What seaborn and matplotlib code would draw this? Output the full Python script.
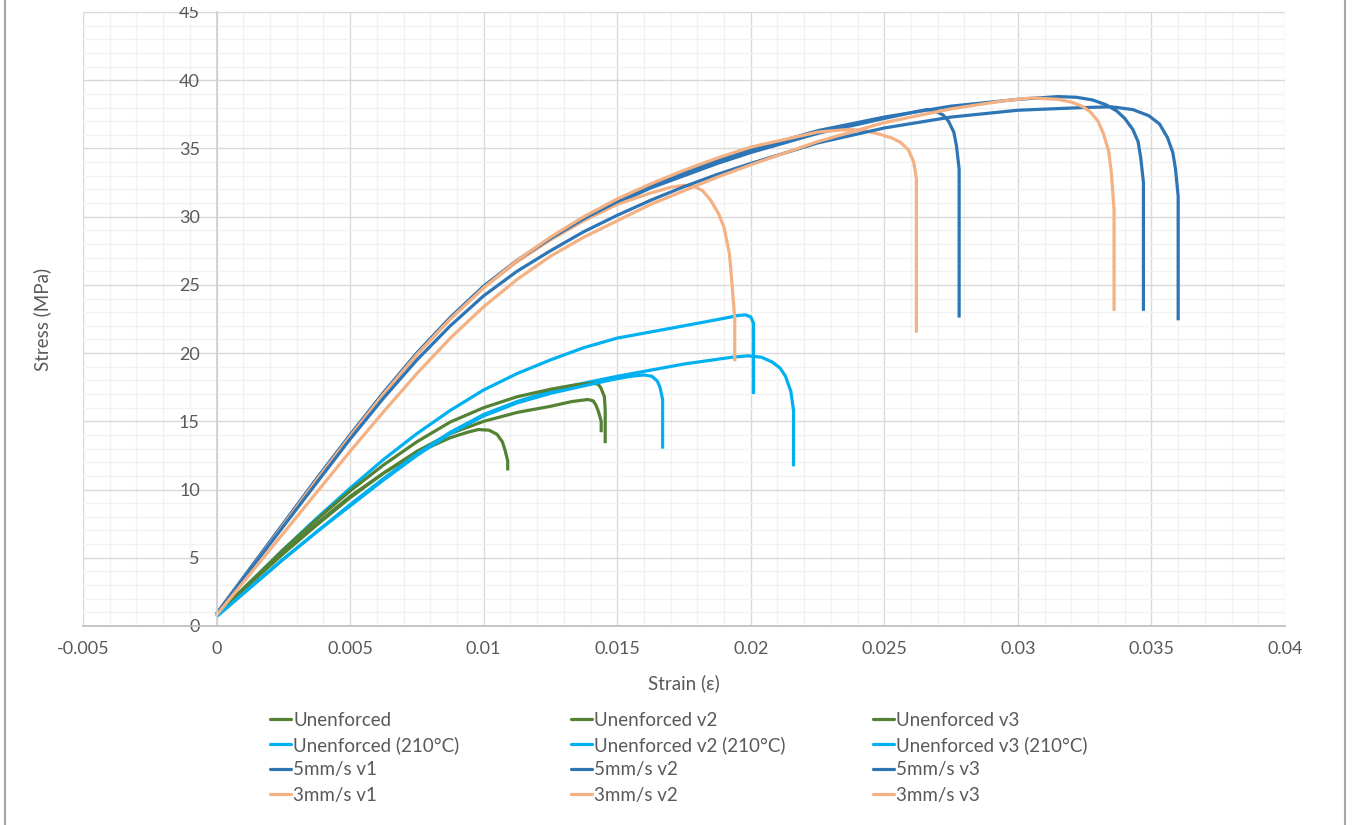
import numpy as np
import pandas as pd
import matplotlib
matplotlib.use("Agg")
import matplotlib.pyplot as plt
from matplotlib.lines import Line2D
from matplotlib.patches import Rectangle
from matplotlib.ticker import MultipleLocator, FuncFormatter
import seaborn as sns

# ── data ───────────────────────────────────────────────────────────────

unenf_x = [0, 0.00125, 0.0025, 0.00375, 0.005, 0.00625, 0.0075, 0.00875, 0.0094, 0.0098, 0.0102, 0.0105,
           0.0107, 0.0108, 0.0109, 0.0109]
unenf_y = [0.8, 3.2, 5.4, 7.5, 9.5, 11.2, 12.7, 13.8, 14.2, 14.4, 14.35, 14.05,
           13.5, 12.9, 12.1, 11.4]

unenf_v2_x = [0, 0.00125, 0.0025, 0.00375, 0.005, 0.00625, 0.0075, 0.00875, 0.01, 0.01125, 0.0125, 0.0133,
              0.0139, 0.0141, 0.0142, 0.0143, 0.0144, 0.0144]
unenf_v2_y = [0.8, 3.1, 5.3, 7.4, 9.4, 11.2, 12.8, 14.1, 15.0, 15.65, 16.1, 16.45,
              16.6, 16.5, 16.2, 15.7, 15.0, 14.2]

unenf_v3_x = [0, 0.00125, 0.0025, 0.00375, 0.005, 0.00625, 0.0075, 0.00875, 0.01, 0.01125, 0.0125, 0.0135,
              0.0141, 0.0143, 0.0144, 0.01452, 0.01455, 0.01455]
unenf_v3_y = [0.8, 3.2, 5.6, 7.8, 9.9, 11.8, 13.5, 14.95, 16.0, 16.8, 17.35, 17.7,
              17.8, 17.7, 17.4, 16.8, 15.8, 13.4]

hot_x = [0, 0.00125, 0.0025, 0.00375, 0.005, 0.00625, 0.0075, 0.00875, 0.01, 0.01125, 0.0125, 0.01375, 0.015,
         0.0175, 0.019, 0.0195, 0.0198, 0.02, 0.0201, 0.0201, 0.0201]
hot_y = [0.7, 3.2, 5.6, 7.9, 10.1, 12.2, 14.1, 15.8, 17.3, 18.5, 19.5, 20.4, 21.1,
         22.0, 22.55, 22.75, 22.8, 22.65, 22.2, 20.5, 17.0]

hot_v2_x = [0, 0.00125, 0.0025, 0.00375, 0.005, 0.00625, 0.0075, 0.00875, 0.01, 0.01125, 0.0125, 0.01375, 0.015,
            0.0175, 0.0193, 0.0199, 0.0204, 0.0208, 0.0211, 0.0213, 0.0215, 0.0216, 0.0216]
hot_v2_y = [0.7, 2.8, 4.9, 6.9, 8.9, 10.8, 12.6, 14.2, 15.5, 16.45, 17.2, 17.8, 18.3,
            19.2, 19.7, 19.8, 19.7, 19.35, 18.9, 18.3, 17.2, 15.8, 11.7]

hot_v3_x = [0, 0.00125, 0.0025, 0.00375, 0.005, 0.00625, 0.0075, 0.00875, 0.01, 0.01125, 0.0125, 0.01375,
            0.0148, 0.0155, 0.016, 0.0163, 0.0165, 0.0166, 0.0167, 0.0167]
hot_v3_y = [0.7, 2.8, 4.9, 6.9, 8.8, 10.7, 12.5, 14.1, 15.4, 16.35, 17.05, 17.6,
            18.05, 18.3, 18.4, 18.3, 17.95, 17.5, 16.6, 13.0]

f5_v1_x = [0, 0.00125, 0.0025, 0.00375, 0.005, 0.00625, 0.0075, 0.00875, 0.01, 0.01125, 0.0125, 0.01375,
           0.015, 0.01625, 0.0175, 0.01875, 0.02, 0.0225, 0.025, 0.0262, 0.0266, 0.0269, 0.0272, 0.0274,
           0.0276, 0.0277, 0.0278, 0.0278, 0.0278]
f5_v1_y = [0.9, 4.2, 7.5, 10.8, 14.0, 17.1, 20.0, 22.6, 24.9, 26.8, 28.4, 29.8,
           31.0, 32.1, 33.0, 33.9, 34.7, 36.1, 37.2, 37.7, 37.85, 37.75, 37.45, 37.0,
           36.2, 35.2, 33.5, 31.0, 22.6]

f5_v2_x = [0, 0.00125, 0.0025, 0.00375, 0.005, 0.00625, 0.0075, 0.00875, 0.01, 0.01125, 0.0125, 0.01375,
           0.015, 0.01625, 0.0175, 0.01875, 0.02, 0.0225, 0.025, 0.0275, 0.03, 0.0315, 0.0322, 0.0328,
           0.0333, 0.0337, 0.034, 0.0343, 0.0345, 0.0346, 0.0347, 0.0347]
f5_v2_y = [0.9, 4.2, 7.5, 10.8, 14.0, 17.1, 20.0, 22.6, 24.9, 26.8, 28.4, 29.85,
           31.1, 32.2, 33.2, 34.1, 34.9, 36.3, 37.3, 38.1, 38.6, 38.8, 38.75, 38.55,
           38.2, 37.75, 37.2, 36.4, 35.5, 34.3, 32.5, 23.1]

f5_v3_x = [0, 0.00125, 0.0025, 0.00375, 0.005, 0.00625, 0.0075, 0.00875, 0.01, 0.01125, 0.0125, 0.01375,
           0.015, 0.01625, 0.0175, 0.01875, 0.02, 0.0225, 0.025, 0.0275, 0.03, 0.0325, 0.0335, 0.0343,
           0.0349, 0.0353, 0.0356, 0.0358, 0.0359, 0.036, 0.036]
f5_v3_y = [0.9, 4.1, 7.3, 10.5, 13.7, 16.7, 19.5, 22.0, 24.2, 26.0, 27.5, 28.9,
           30.1, 31.2, 32.2, 33.1, 33.9, 35.4, 36.5, 37.3, 37.8, 38.0, 38.05, 37.85,
           37.4, 36.8, 35.8, 34.7, 33.5, 31.5, 22.4]

f3_v1_x = [0, 0.00125, 0.0025, 0.00375, 0.005, 0.00625, 0.0075, 0.00875, 0.01, 0.01125, 0.0125, 0.01375,
           0.015, 0.0162, 0.017, 0.0175, 0.0179, 0.0182, 0.0185, 0.0188, 0.019, 0.0192, 0.0193, 0.0194, 0.0194]
f3_v1_y = [0.9, 4.1, 7.4, 10.7, 13.9, 17.0, 19.9, 22.5, 24.8, 26.7, 28.3, 29.7,
           30.9, 31.7, 32.15, 32.3, 32.2, 31.9, 31.2, 30.2, 29.2, 27.3, 25.0, 22.5, 19.4]

f3_v2_x = [0, 0.00125, 0.0025, 0.00375, 0.005, 0.00625, 0.0075, 0.00875, 0.01, 0.01125, 0.0125, 0.01375,
           0.015, 0.01625, 0.0175, 0.01875, 0.02, 0.0225, 0.0237, 0.0243, 0.0249, 0.0253, 0.0256, 0.0259,
           0.0261, 0.0262, 0.0262, 0.0262]
f3_v2_y = [0.9, 4.1, 7.4, 10.7, 13.9, 17.0, 19.9, 22.5, 24.8, 26.8, 28.5, 30.0,
           31.3, 32.4, 33.4, 34.3, 35.1, 36.2, 36.4, 36.3, 36.0, 35.75, 35.45, 34.9,
           34.0, 32.8, 30.5, 21.5]

f3_v3_x = [0, 0.00125, 0.0025, 0.00375, 0.005, 0.00625, 0.0075, 0.00875, 0.01, 0.01125, 0.0125, 0.01375,
           0.015, 0.01625, 0.0175, 0.01875, 0.02, 0.0225, 0.025, 0.0275, 0.0295, 0.0305, 0.0315, 0.032,
           0.0324, 0.0327, 0.033, 0.0332, 0.0334, 0.0335, 0.0336, 0.0336]
f3_v3_y = [0.8, 3.8, 6.8, 9.8, 12.8, 15.7, 18.5, 21.1, 23.4, 25.4, 27.1, 28.5,
           29.7, 30.9, 31.9, 32.9, 33.8, 35.5, 36.9, 37.9, 38.5, 38.7, 38.6, 38.4,
           38.1, 37.7, 37.0, 36.1, 34.8, 33.2, 30.5, 23.1]

series = [
    ("Unenforced", unenf_x, unenf_y),
    ("Unenforced (210°C)", hot_x, hot_y),
    ("5mm/s v1", f5_v1_x, f5_v1_y),
    ("3mm/s v1", f3_v1_x, f3_v1_y),
    ("Unenforced v2", unenf_v2_x, unenf_v2_y),
    ("Unenforced v2 (210°C)", hot_v2_x, hot_v2_y),
    ("5mm/s v2", f5_v2_x, f5_v2_y),
    ("3mm/s v2", f3_v2_x, f3_v2_y),
    ("Unenforced v3", unenf_v3_x, unenf_v3_y),
    ("Unenforced v3 (210°C)", hot_v3_x, hot_v3_y),
    ("5mm/s v3", f5_v3_x, f5_v3_y),
    ("3mm/s v3", f3_v3_x, f3_v3_y),
]

GREEN, CYAN, BLUE, ORANGE = "#548235", "#00b0f0", "#2e75b6", "#f4b183"
palette = {}
for name, _, _ in series:
    if name.startswith("5mm"):
        palette[name] = BLUE
    elif name.startswith("3mm"):
        palette[name] = ORANGE
    elif "210" in name:
        palette[name] = CYAN
    else:
        palette[name] = GREEN

df = pd.concat(
    [pd.DataFrame({"strain": x, "stress": y, "series": n}) for n, x, y in series],
    ignore_index=True,
)

# ── plot ───────────────────────────────────────────────────────────────

sns.set_theme(style="white")
plt.rcParams["font.family"] = ["Lato", "DejaVu Sans"]
TXT = "#595959"

fig = plt.figure(figsize=(13.53, 8.25), dpi=100)
ax = fig.add_axes([83 / 1353, 1 - 626 / 825, (1285 - 83) / 1353, (626 - 12) / 825])

# greens / cyans first, blue and orange drawn over them
draw_order = [n for n, _, _ in series if palette[n] in (GREEN, CYAN)] + \
             [n for n, _, _ in series if palette[n] in (BLUE, ORANGE)]
for name in draw_order:
    sub = df[df["series"] == name]
    sns.lineplot(data=sub, x="strain", y="stress", color=palette[name], lw=2.3,
                 sort=False, estimator=None, ax=ax, legend=False)
for ln in ax.get_lines():
    ln.set_solid_joinstyle("round")
    ln.set_solid_capstyle("butt")

ax.set_xlim(-0.005, 0.04)
ax.set_ylim(0, 45)
ax.xaxis.set_major_locator(MultipleLocator(0.005))
ax.xaxis.set_minor_locator(MultipleLocator(0.001))
ax.yaxis.set_major_locator(MultipleLocator(5))
ax.yaxis.set_minor_locator(MultipleLocator(1))
ax.xaxis.set_major_formatter(FuncFormatter(lambda v, _: f"{round(v, 4):g}"))
ax.grid(which="major", color="#d9d9d9", lw=1.0)
ax.grid(which="minor", color="#f2f2f2", lw=1.0)
ax.set_axisbelow(True)

for s in ("top", "right"):
    ax.spines[s].set_visible(False)
ax.spines["left"].set_position(("data", 0))
ax.spines["left"].set_color("#d0d0d0")
ax.spines["bottom"].set_color("#bfbfbf")
ax.tick_params(axis="x", which="major", length=5, color="#bfbfbf", labelsize=13, labelcolor=TXT, pad=6)
ax.tick_params(axis="y", which="major", length=0, labelsize=13, labelcolor=TXT, pad=12)
ax.tick_params(which="minor", length=0)

ax.set_xlabel("Strain (ε)", fontsize=13.5, color=TXT, labelpad=12)
ax.set_ylabel("")
fig.text(42 / 1353, 1 - 319 / 825, "Stress (MPa)", rotation=90, ha="center", va="center",
         fontsize=13.5, color=TXT)

# legend laid out like the spreadsheet: 3 columns x 4 rows, one entry per cell
col_x = [270, 571, 873]
row_y = [720, 745, 770, 795]
for i, (name, _, _) in enumerate(series):
    xs, ys = col_x[i // 4], row_y[i % 4]
    leg = fig.legend([Line2D([], [], color=palette[name], lw=2.3)], [name], loc="center left",
                     bbox_to_anchor=(xs / 1353, 1 - ys / 825), frameon=False,
                     fontsize=13.5, handlelength=1.1, handletextpad=0.15,
                     borderpad=0, borderaxespad=0)
    leg.get_texts()[0].set_color(TXT)

# the screenshot cuts off the top few pixels of the chart
fig.add_artist(Rectangle((8 / 1353, 1 - 7 / 825), 1330 / 1353, 7 / 825, transform=fig.transFigure,
                         facecolor="white", edgecolor="none", zorder=10))

# chart-area border lines on both sides
for xb in (5, 1345):
    fig.add_artist(Line2D([xb / 1353, xb / 1353], [0, 1], color="#a6a6a6", lw=1.5, zorder=11))

fig.savefig("out.png", dpi=100)
